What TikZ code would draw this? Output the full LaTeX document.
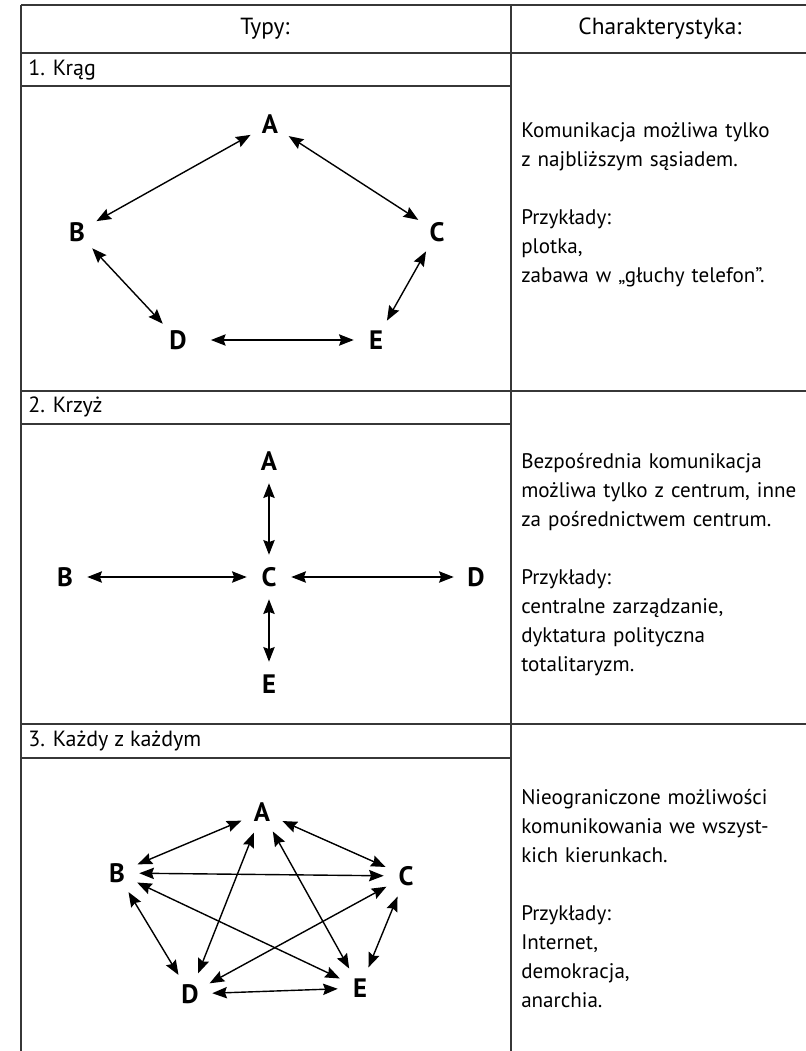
\documentclass[tikz,border=0pt]{standalone}
\usepackage{fontspec}
\setmainfont{PT Sans}
\usepackage{xcolor}
\usetikzlibrary{arrows.meta,positioning}
\definecolor{clrRule}{RGB}{55,55,55}
\tikzset{
  rule/.style={draw=clrRule,line width=0.8pt},
  head/.style={font=\fontsize{17.5}{21}\selectfont,inner sep=0pt},
  rowlabel/.style={font=\fontsize{16.5}{20}\selectfont,anchor=west,inner sep=0pt},
  desc/.style={font=\fontsize{15.8}{21.75}\selectfont,anchor=base west,
    text width=260pt,align=left,inner sep=0pt},
  member/.style={circle,font=\fontsize{20}{24}\selectfont\bfseries,
    minimum size=33pt,inner sep=0pt},
  link/.style={{Stealth[length=11pt,width=8.5pt,inset=1.5pt]}-{Stealth[length=11pt,width=8.5pt,inset=1.5pt]},
    line width=1.05pt}
}

\begin{document}
\begin{tikzpicture}[x=0.75pt,y=-0.75pt]
  \path[use as bounding box,fill=white] (0,0) rectangle (806,1051);

  % table rules
  \draw[rule] (21,5) -- (806,5);
  \draw[rule] (21,53) -- (806,53);
  \draw[rule] (21,86) -- (511,86);
  \draw[rule] (21,391) -- (806,391);
  \draw[rule] (21,424) -- (511,424);
  \draw[rule] (21,724) -- (806,724);
  \draw[rule] (21,758) -- (511,758);
  \draw[rule] (21,5) -- (21,1051);
  \draw[rule] (511,5) -- (511,1051);

  \node[head] (typy) at (265,29) {Typy:};
  \node[head] (charakt) at (660,29) {Charakterystyka:};

  % 1. krag
  \node[rowlabel] (rowKrag) at (28,70) {1. Krąg};

  \node[member] (ringA) at (270,124) {A};
  \node[member] (ringB) at (77,232) {B};
  \node[member] (ringC) at (437,232) {C};
  \node[member] (ringD) at (178,340) {D};
  \node[member] (ringE) at (376,340) {E};

  \draw[link] (ringA) to (ringB);
  \draw[link] (ringA) to (ringC);
  \draw[link] (ringB) to (ringD);
  \draw[link] (ringC) to (ringE);
  \draw[link,shorten <=8pt] (ringD) to (ringE);

  \node[desc] (descKrag) at (521,137)
    {Komunikacja możliwa tylko\\
     z najbliższym sąsiadem.\\[21.75pt]
     Przykłady:\\
     plotka,\\
     zabawa w „głuchy telefon”.};

  % 2. krzyz
  \node[rowlabel] (rowKrzyz) at (28,407) {2. Krzyż};

  \node[member] (crossA) at (269,461) {A};
  \node[member] (crossB) at (65,577) {B};
  \node[member] (crossC) at (269,577) {C};
  \node[member] (crossD) at (476,577) {D};
  \node[member] (crossE) at (269,684) {E};

  \draw[link] (crossA) to (crossC);
  \draw[link] (crossB) to (crossC);
  \draw[link] (crossC) to (crossD);
  \draw[link] (crossC) to (crossE);

  \node[desc] (descKrzyz) at (521,468)
    {Bezpośrednia komunikacja\\
     możliwa tylko z centrum, inne\\
     za pośrednictwem centrum.\\[21.75pt]
     Przykłady:\\
     centralne zarządzanie,\\
     dyktatura polityczna\\
     totalitaryzm.};

  % 3. kazdy z kazdym
  \node[rowlabel] (rowKazdy) at (28,741) {3. Każdy z każdym};

  \node[member] (meshA) at (262,812) {A};
  \node[member] (meshB) at (117,873) {B};
  \node[member] (meshC) at (406,876) {C};
  \node[member] (meshD) at (190,994) {D};
  \node[member] (meshE) at (360,988) {E};

  \draw[link] (meshA) to (meshB);
  \draw[link] (meshA) to (meshC);
  \draw[link] (meshA) to (meshD);
  \draw[link] (meshA) to (meshE);
  \draw[link] (meshB) to (meshC);
  \draw[link] (meshB) to (meshD);
  \draw[link] (meshB) to (meshE);
  \draw[link] (meshC) to (meshD);
  \draw[link] (meshC) to (meshE);
  \draw[link] (meshD) to (meshE);

  \node[desc] (descKazdy) at (521,804)
    {Nieograniczone możliwości\\
     komunikowania we wszyst-\\
     kich kierunkach.\\[21.75pt]
     Przykłady:\\
     Internet,\\
     demokracja,\\
     anarchia.};
\end{tikzpicture}
\end{document}
